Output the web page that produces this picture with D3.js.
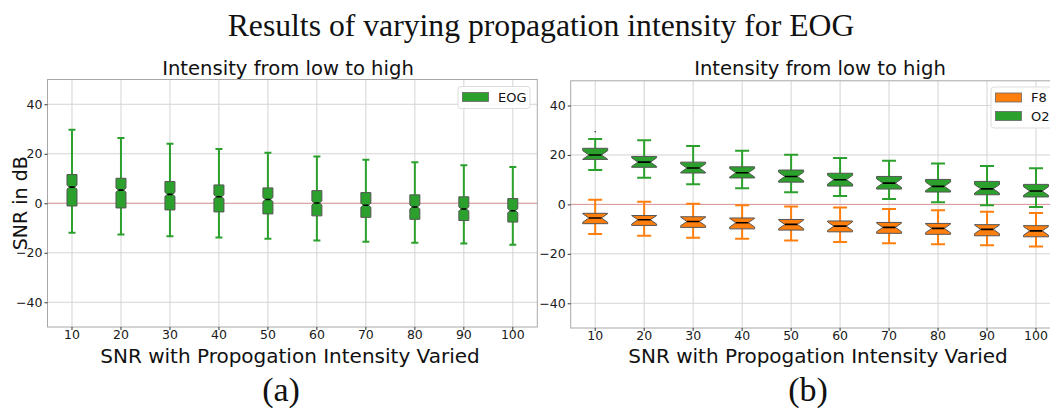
<!DOCTYPE html>
<html>
<head>
<meta charset="utf-8">
<script src="https://cdn.jsdelivr.net/npm/d3@7"></script>
<style>
  html, body { margin: 0; padding: 0; background: #fff; }
  svg { display: block; }
</style>
</head>
<body>
<svg id="chart" width="1050" height="409"></svg>
<script>
// Category labels (SNR with propagation intensity)
const categories = [10, 20, 30, 40, 50, 60, 70, 80, 90, 100];
const yTicks = [-40, -20, 0, 20, 40];

// Panel (a): EOG box statistics
const eogHigh = [29.7, 26.4, 24.0, 21.9, 20.4, 18.9, 17.6, 16.6, 15.4, 14.6];
const eogQ3   = [11.6, 10.1, 8.8, 7.4, 6.2, 5.1, 4.3, 3.4, 2.6, 1.9];
const eogMed  = [6.5, 5.3, 3.6, 2.6, 1.5, 0.1, -0.8, -1.5, -2.3, -3.0];
const eogQ1   = [-1.1, -1.9, -2.7, -3.5, -4.3, -5.1, -5.7, -6.5, -7.0, -7.6];
const eogLow  = [-11.9, -12.6, -13.3, -13.8, -14.3, -15.0, -15.6, -16.0, -16.3, -16.8];

// Panel (b): O2 box statistics
const o2High = [26.5, 26.0, 23.6, 21.7, 20.1, 18.8, 17.7, 16.5, 15.5, 14.6];
const o2Q3   = [22.7, 19.4, 17.1, 15.2, 13.9, 12.6, 11.3, 10.1, 9.3, 8.1];
const o2Med  = [20.0, 17.1, 14.7, 12.8, 11.3, 10.0, 8.6, 7.3, 6.3, 5.4];
const o2Q1   = [18.2, 15.0, 12.7, 10.7, 9.0, 7.4, 6.2, 5.0, 3.9, 3.0];
const o2Low  = [13.9, 10.8, 8.2, 6.5, 4.9, 3.4, 2.2, 0.9, -0.3, -1.1];
const o2Fliers = [[10, 29.4]];

// Panel (b): F8 box statistics
const f8High = [1.9, 1.1, 0.3, -0.3, -0.9, -1.3, -1.9, -2.4, -3.0, -3.5];
const f8Q3   = [-3.6, -4.5, -5.0, -5.5, -6.1, -6.7, -7.3, -7.7, -8.2, -8.6];
const f8Med  = [-5.5, -6.2, -6.9, -7.4, -8.1, -8.8, -9.3, -9.7, -10.1, -10.7];
const f8Q1   = [-7.8, -8.5, -9.3, -9.9, -10.4, -11.1, -11.7, -12.1, -12.7, -13.1];
const f8Low  = [-12.0, -12.7, -13.5, -13.9, -14.6, -15.2, -15.7, -16.1, -16.5, -17.0];
const f8Fliers = [];

const GREEN = "#2ca02c";
const ORANGE = "#ff7f0e";

function series(name, color, high, q3, med, q1, low, fliers) {
  return {
    name, color, fliers,
    boxes: categories.map((c, i) => ({ cat: c, high: high[i], q3: q3[i], med: med[i], q1: q1[i], low: low[i] }))
  };
}

const svg = d3.select("#chart");
const sans = "DejaVu Sans, sans-serif";
const serif = "Liberation Serif, DejaVu Serif, serif";

// Figure title
svg.append("text")
  .attr("x", 541).attr("y", 36)
  .attr("text-anchor", "middle")
  .attr("font-family", serif).attr("font-size", 31.7)
  .attr("fill", "#111")
  .text("Results of varying propagation intensity for EOG");

function drawPanel(opts) {
  const { left, right, top, bottom, seriesList, boxWidth, capWidth, notchHalf, legendBox, showYLabel, tag } = opts;

  const x = d3.scaleBand().domain(categories).range([left, right]).paddingInner(0).paddingOuter(0);
  const cx = c => x(c) + x.bandwidth() / 2;
  const y = d3.scaleLinear().domain([-50, 50]).range([bottom, top]);

  const g = svg.append("g");
  const clipId = "clip-" + tag;
  svg.append("clipPath").attr("id", clipId)
    .append("rect").attr("x", left).attr("y", top).attr("width", right - left).attr("height", bottom - top);

  // Grid
  const grid = g.append("g").attr("clip-path", `url(#${clipId})`);
  grid.selectAll("line.gx").data(categories).join("line")
    .attr("x1", d => cx(d)).attr("x2", d => cx(d))
    .attr("y1", top).attr("y2", bottom)
    .attr("stroke", "#d4d4d4").attr("stroke-width", 1);
  grid.selectAll("line.gy").data(yTicks).join("line")
    .attr("x1", left).attr("x2", right)
    .attr("y1", d => y(d)).attr("y2", d => y(d))
    .attr("stroke", "#d4d4d4").attr("stroke-width", 1);

  // Zero reference line
  g.append("line")
    .attr("x1", left).attr("x2", right)
    .attr("y1", y(0)).attr("y2", y(0))
    .attr("stroke", "#e06060").attr("stroke-opacity", 0.55).attr("stroke-width", 1);

  // Boxes
  const marks = g.append("g").attr("clip-path", `url(#${clipId})`);
  seriesList.forEach(s => {
    const sg = marks.append("g");
    const b = sg.selectAll("g.box").data(s.boxes).join("g");
    // whiskers
    b.append("line")
      .attr("x1", d => cx(d.cat)).attr("x2", d => cx(d.cat))
      .attr("y1", d => y(d.q3)).attr("y2", d => y(d.high))
      .attr("stroke", s.color).attr("stroke-width", 2);
    b.append("line")
      .attr("x1", d => cx(d.cat)).attr("x2", d => cx(d.cat))
      .attr("y1", d => y(d.q1)).attr("y2", d => y(d.low))
      .attr("stroke", s.color).attr("stroke-width", 2);
    // caps
    ["high", "low"].forEach(k => {
      b.append("line")
        .attr("x1", d => cx(d.cat) - capWidth / 2).attr("x2", d => cx(d.cat) + capWidth / 2)
        .attr("y1", d => y(d[k])).attr("y2", d => y(d[k]))
        .attr("stroke", s.color).attr("stroke-width", 2);
    });
    // notched box
    b.append("path")
      .attr("d", d => {
        const c = cx(d.cat), hw = boxWidth / 2, nw = boxWidth / 4;
        const nHi = Math.min(d.med + notchHalf, d.q3);
        const nLo = Math.max(d.med - notchHalf, d.q1);
        return d3.line()([
          [c - hw, y(d.q1)], [c + hw, y(d.q1)], [c + hw, y(nLo)], [c + nw, y(d.med)],
          [c + hw, y(nHi)], [c + hw, y(d.q3)], [c - hw, y(d.q3)], [c - hw, y(nHi)],
          [c - nw, y(d.med)], [c - hw, y(nLo)]
        ]) + "Z";
      })
      .attr("fill", s.color).attr("stroke", "#555").attr("stroke-width", 1);
    // median
    b.append("line")
      .attr("x1", d => cx(d.cat) - boxWidth / 4).attr("x2", d => cx(d.cat) + boxWidth / 4)
      .attr("y1", d => y(d.med)).attr("y2", d => y(d.med))
      .attr("stroke", "#000").attr("stroke-width", 1.6);
    // outliers
    sg.selectAll("circle").data(s.fliers).join("circle")
      .attr("cx", d => cx(d[0])).attr("cy", d => y(d[1]))
      .attr("r", 0.8).attr("fill", "#333");
  });

  // Spines
  g.append("rect")
    .attr("x", left).attr("y", top).attr("width", right - left).attr("height", bottom - top)
    .attr("fill", "none").attr("stroke", "#a8a8a8").attr("stroke-width", 1);

  // Axes
  const xAxis = d3.axisBottom(x).tickSize(3).tickPadding(0);
  const gx = g.append("g").attr("transform", `translate(0,${bottom})`).call(xAxis);
  gx.select(".domain").remove();
  gx.selectAll("line").attr("stroke", "#333");
  gx.selectAll("text").attr("font-family", sans).attr("font-size", 12.5).attr("fill", "#1a1a1a");

  const yAxis = d3.axisLeft(y).tickValues(yTicks).tickSize(3).tickPadding(2)
    .tickFormat(d => d < 0 ? "\u2212" + Math.abs(d) : String(d));
  const gy = g.append("g").attr("transform", `translate(${left},0)`).call(yAxis);
  gy.select(".domain").remove();
  gy.selectAll("line").attr("stroke", "#333");
  gy.selectAll("text").attr("font-family", sans).attr("font-size", 12.5).attr("fill", "#1a1a1a");

  // Panel title and x label
  svg.append("text")
    .attr("x", opts.titleX).attr("y", 75)
    .attr("text-anchor", "middle")
    .attr("font-family", sans).attr("font-size", 19.6).attr("fill", "#111")
    .text("Intensity from low to high");
  svg.append("text")
    .attr("x", opts.labelX).attr("y", 363)
    .attr("text-anchor", "middle")
    .attr("font-family", sans).attr("font-size", 20).attr("fill", "#111")
    .text("SNR with Propogation Intensity Varied");
  svg.append("text")
    .attr("x", opts.tagX).attr("y", 401)
    .attr("text-anchor", "middle")
    .attr("font-family", serif).attr("font-size", 34).attr("fill", "#111")
    .text(`(${tag})`);

  if (showYLabel) {
    svg.append("text")
      .attr("transform", `translate(27,${y(0)}) rotate(-90)`)
      .attr("text-anchor", "middle")
      .attr("font-family", sans).attr("font-size", 19).attr("fill", "#111")
      .text("SNR in dB");
  }

  // Legend
  const lg = svg.append("g");
  lg.append("rect")
    .attr("x", legendBox.x).attr("y", legendBox.y)
    .attr("width", legendBox.w).attr("height", legendBox.h)
    .attr("rx", 3)
    .attr("fill", "#fff").attr("fill-opacity", 0.85)
    .attr("stroke", "#ddd").attr("stroke-width", 1);
  legendBox.order.forEach((s, i) => {
    const rowY = legendBox.y + 6 + i * 18.5;
    lg.append("rect")
      .attr("x", legendBox.x + 4.5).attr("y", rowY)
      .attr("width", 26).attr("height", 9)
      .attr("fill", s.color).attr("stroke", "#666").attr("stroke-width", 0.8);
    lg.append("text")
      .attr("x", legendBox.x + 40).attr("y", rowY + 9)
      .attr("font-family", sans).attr("font-size", 13).attr("fill", "#111")
      .text(s.name);
  });
}

const eog = series("EOG", GREEN, eogHigh, eogQ3, eogMed, eogQ1, eogLow, []);
const o2 = series("O2", GREEN, o2High, o2Q3, o2Med, o2Q1, o2Low, o2Fliers);
const f8 = series("F8", ORANGE, f8High, f8Q3, f8Med, f8Q1, f8Low, f8Fliers);

drawPanel({
  tag: "a", left: 47.5, right: 537.3, top: 79.5, bottom: 327,
  seriesList: [eog], boxWidth: 10, capWidth: 7, notchHalf: 0.8,
  showYLabel: true, titleX: 288, labelX: 290, tagX: 281,
  legendBox: { x: 458, y: 86.5, w: 72, h: 22, order: [eog] }
});

drawPanel({
  tag: "b", left: 570.7, right: 1060.5, top: 80.8, bottom: 328,
  seriesList: [f8, o2], boxWidth: 25, capWidth: 14, notchHalf: 1.75,
  showYLabel: false, titleX: 820, labelX: 818, tagX: 808,
  legendBox: { x: 991, y: 87, w: 70, h: 41, order: [f8, o2] }
});
</script>
</body>
</html>
